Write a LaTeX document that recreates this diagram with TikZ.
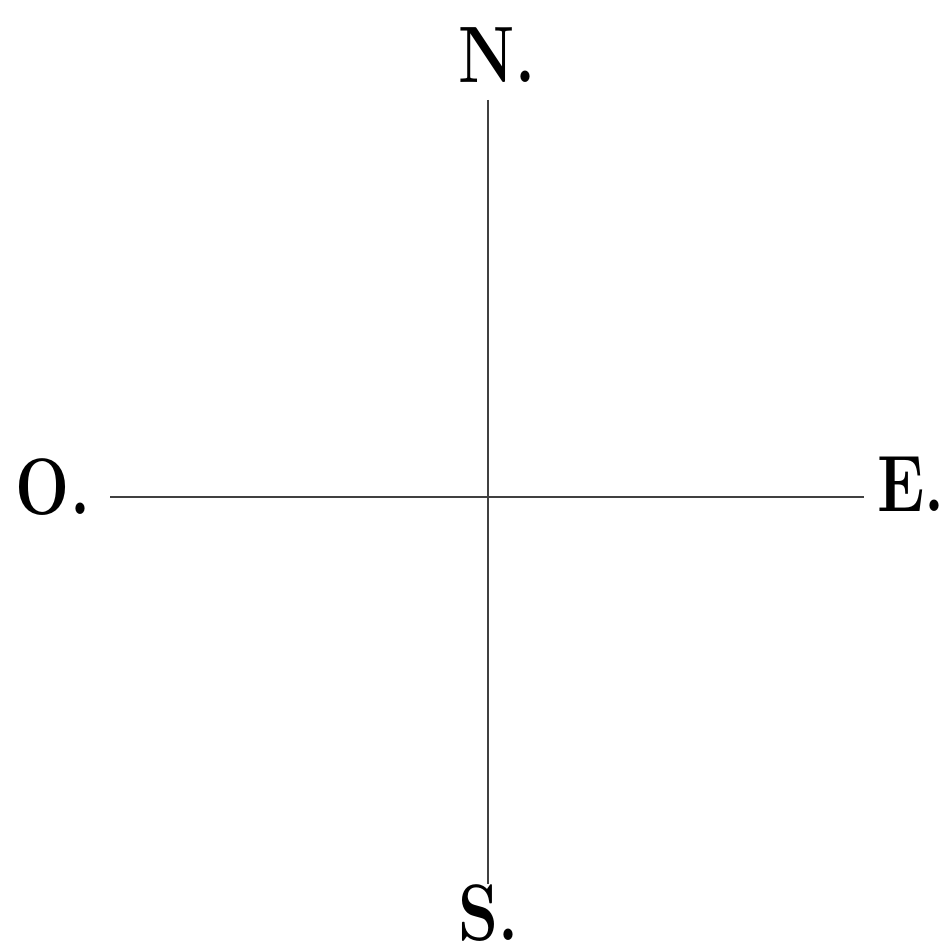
\documentclass[tikz,border=0pt]{standalone}
\usepackage{fontspec}
\begin{document}
\begin{tikzpicture}[x=0.5pt,y=-0.5pt,
  lbl/.style={anchor=base,inner sep=0pt,xscale=0.8,font=\fontsize{40}{48}\selectfont\bfseries},
  axis/.style={line width=0.9pt,draw=black!75}]
\useasboundingbox[fill=white] (0,0) rectangle (946,951);
\node[lbl] (N) at (497,83) {N.};
\node[lbl] (O) at (53,514) {O.};
\node[lbl] (E) at (911,511) {E.};
\node[lbl] (S) at (489,940) {S.};
\coordinate (nt) at (488,100);
\coordinate (sb) at (488,884);
\coordinate (ol) at (110,497);
\coordinate (er) at (864,497);
\draw[axis] (nt) -- (sb);
\draw[axis] (ol) -- (er);
\end{tikzpicture}
\end{document}
